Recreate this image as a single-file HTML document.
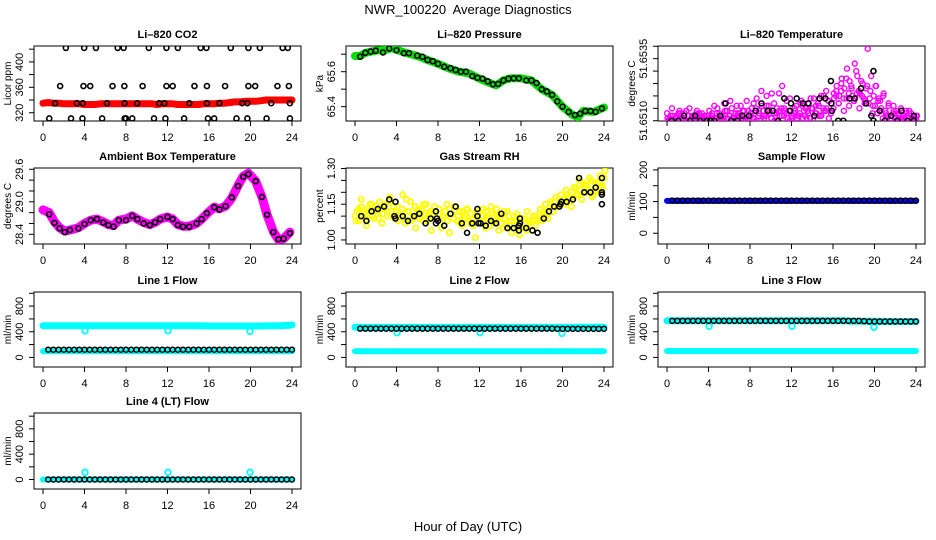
<!DOCTYPE html>
<html><head><meta charset="utf-8"><title>NWR_100220 Average Diagnostics</title>
<style>
html,body{margin:0;padding:0;background:#fff;}
svg{display:block;font-family:"Liberation Sans",sans-serif;}
.tk{font-size:11px;fill:#000;}
.pt{font-size:11px;font-weight:bold;fill:#000;}
</style></head>
<body>
<svg id="chart" width="936" height="540" viewBox="0 0 936 540" xmlns="http://www.w3.org/2000/svg">
<rect x="0" y="0" width="936" height="540" fill="#fff"/>
<text x="468" y="14" text-anchor="middle" font-size="13">NWR_100220&#160; Average Diagnostics</text>
<text x="468" y="531" text-anchor="middle" font-size="13">Hour of Day (UTC)</text>
</svg>
<script>
// ---------- data ----------
const xTicks = [0,4,8,12,16,20,24];
// CO2
const co2BlackHours = [2.2,3.97,5.1,7.2,7.77,10.2,11.9,13.0,15.2,15.75,18.1,19.8,20.9,23.1,23.6, 1.65,3.9,4.55,6.7,7.84,9.6,11.9,12.5,14.6,15.8,17.55,19.8,20.45,22.6,23.7, 1.16,3.26,3.84,6.16,7.87,9.07,11.2,11.7,14.1,15.8,17.0,19.2,19.7,22.0,23.8, 0.6,2.7,3.8,5.7,7.87,8.0,8.6,10.7,11.8,13.6,15.9,16.5,18.65,19.7,21.55,23.8];
const co2BlackVals = [422,422,422,422,422,422,422,422,422,422,422,422,422,422,422, 362,362,362,362,362,362,362,362,362,362,362,362,362,362,362, 335,335,335,335,335,335,335,335,335,335,335,335,335,335,335, 311,311,311,311,311,311,311,311,311,311,311,311,311,311,311,311];
const co2RedVals = [335,336,335,335,334,334,334,334,333,333,333,334,334,334,334,334,334, 334,334,334,334,334,333,334,334,334,333,333,333,333,333,334,334, 334,335,335,336,337,337,338,338,338,339,340,340,340,340,340,340];
// Pressure
const presHours = [0.5,1,1.5,2,2.7,3.3,4,4.7,5.2,6,6.5,7,7.5,8,8.6,9.2,9.7,10.2,10.7,11.3,11.8,12.3,12.8,13.3,13.8,14.3,14.8,15.3,15.8,16.5,17,17.5,18,18.5,19,19.5,20,20.6,21.2,21.7,22.2,22.7,23.2,23.8];
const presVals = [65.686,65.708,65.715,65.72,65.71,65.733,65.723,65.706,65.706,65.692,65.685,65.667,65.66,65.645,65.628,65.62,65.61,65.6,65.6,65.575,65.565,65.56,65.545,65.528,65.53,65.55,65.56,65.562,65.562,65.55,65.55,65.535,65.5,65.487,65.467,65.43,65.4,65.37,65.352,65.36,65.375,65.375,65.37,65.39];
const presGreenHours = [0,0.5,1,2,3,3.5,4,5,6,7,8,9,10,11,12,13,13.6,14.3,15,16,17,18,19,20,21,21.5,22,23,24];
const presGreenVals = [65.69,65.69,65.708,65.72,65.725,65.735,65.725,65.706,65.69,65.667,65.645,65.62,65.6,65.59,65.56,65.535,65.522,65.55,65.562,65.562,65.55,65.5,65.467,65.4,65.352,65.34,65.375,65.37,65.395];
// Li-820 temperature
const tempMagA = [51.6513,51.6511,51.6515,51.6510,51.6512,51.6514,51.6511,51.6513,51.6510,51.6515,51.6512,51.6511,51.6514,51.6510,51.6513,51.6512,51.6511, 51.6514,51.6512,51.6516,51.6511,51.6513,51.6510,51.6517,51.6514,51.6512,51.6515,51.6511,51.6516,51.6513,51.6510,51.6514,51.6518,51.6512, 51.6515,51.6511,51.6519,51.6513,51.6516,51.6512,51.6520,51.6514,51.6511,51.6517,51.6513,51.6521,51.6515,51.6512,51.6518,51.6514,51.6511, 51.6513,51.6516,51.6512,51.6518,51.6514,51.6511,51.6517,51.6515,51.6519,51.6513,51.6516,51.6512,51.6520,51.6515,51.6518,51.6514,51.6521, 51.6522,51.6517,51.6525,51.6519,51.6527,51.6521,51.6524,51.6518,51.6530,51.6522,51.6526,51.6519,51.6523,51.6517,51.6528,51.6520,51.6524, 51.6519,51.6515,51.6521,51.6513,51.6517,51.6512,51.6516,51.6514,51.6511,51.6515,51.6512,51.6514,51.6511,51.6513,51.6510,51.6512];
const tempMagB = [51.6510,51.6512,51.6510,51.6511,51.6513,51.6510,51.6512,51.6514,51.6510,51.6511,51.6512,51.6510,51.6513,51.6511,51.6510,51.6512, 51.6510,51.6513,51.6511,51.6515,51.6510,51.6512,51.6514,51.6511,51.6518,51.6510,51.6513,51.6512,51.6516,51.6511,51.6510,51.6514, 51.6512,51.6517,51.6510,51.6514,51.6522,51.6511,51.6516,51.6513,51.6521,51.6510,51.6515,51.6512,51.6524,51.6514,51.6511,51.6519, 51.6510,51.6514,51.6512,51.6517,51.6511,51.6515,51.6513,51.6519,51.6510,51.6516,51.6512,51.6520,51.6514,51.6522,51.6511,51.6517, 51.6519,51.6524,51.6520,51.6527,51.6523,51.6531,51.6526,51.6520,51.6533,51.6528,51.6521,51.6525,51.6518,51.6539,51.6522,51.6516, 51.6524,51.6518,51.6514,51.6520,51.6512,51.6516,51.6511,51.6514,51.6510,51.6513,51.6511,51.6512,51.6510,51.6514,51.6511,51.6510,51.6512];
const tempMagC = [51.6511,51.6510,51.6512,51.6511,51.6510,51.6513,51.6511,51.6510,51.6512,51.6510,51.6511,51.6513,51.6510,51.6512,51.6511,51.6510, 51.6512,51.6511,51.6510,51.6513,51.6512,51.6511,51.6510,51.6514,51.6512,51.6511,51.6510,51.6513,51.6512,51.6514,51.6511,51.6510, 51.6513,51.6511,51.6515,51.6512,51.6510,51.6514,51.6512,51.6516,51.6511,51.6513,51.6510,51.6514,51.6512,51.6515,51.6513,51.6510, 51.6512,51.6515,51.6511,51.6513,51.6516,51.6512,51.6514,51.6511,51.6515,51.6513,51.6517,51.6512,51.6515,51.6514,51.6518,51.6513, 51.6515,51.6520,51.6517,51.6522,51.6514,51.6519,51.6516,51.6523,51.6518,51.6521,51.6515,51.6520,51.6517,51.6524,51.6519,51.6513, 51.6516,51.6513,51.6518,51.6511,51.6514,51.6512,51.6510,51.6513,51.6511,51.6512,51.6510,51.6511,51.6513,51.6510,51.6512,51.6511,51.6510];
const tempBlackHours = [0.45,1.1,1.65,2.24,2.72,3.2,3.85,4.18,4.57,5.15,5.64,6.19,6.77,7.26,7.9,8.55,9.1,9.69,10.2,10.7,11.3,11.86,11.95,12.5,13.1,13.6,14.2,14.7,15.26,15.8,15.84,15.9,16.5,17.0,17.6,18.1,18.7,19.2,19.7,19.9,19.9,20.5,21.0,21.6,22.2,22.6,23.2,23.8,23.8];
const tempBlackVals = [51.6510,51.6510,51.6512,51.6510,51.6512,51.6510,51.6510,51.6510,51.6510,51.6512,51.6517,51.6510,51.6510,51.6512,51.6512,51.6514,51.6517,51.6514,51.6514,51.6510,51.6519,51.6514,51.6517,51.6519,51.6517,51.6517,51.6512,51.6519,51.6519,51.6526,51.6517,51.6514,51.6510,51.6510,51.6519,51.6519,51.6523,51.6517,51.6512,51.6530,51.6510,51.6514,51.6510,51.6512,51.6510,51.6514,51.6510,51.6512,51.6510];
// Ambient box temperature
const ambHours = [0.6,1.1,1.6,2.1,2.6,3.4,4,4.6,5.2,5.8,6.3,6.8,7.3,8,8.6,9.1,9.7,10.3,10.8,11.3,12,12.5,13,13.5,14.1,14.8,15.3,15.8,16.5,17,17.6,18.2,18.8,19.3,19.8,20.5,21.1,21.6,22.2,22.7,23.2,23.8];
const ambVals = [28.77,28.61,28.51,28.44,28.48,28.51,28.59,28.66,28.68,28.62,28.57,28.54,28.66,28.66,28.74,28.68,28.6,28.57,28.62,28.68,28.72,28.68,28.57,28.54,28.54,28.6,28.68,28.79,28.9,28.86,28.92,29.08,29.29,29.46,29.51,29.38,29.09,28.76,28.44,28.31,28.32,28.42];
const ambMagHours = [0,0.6,1.1,1.6,2.1,2.6,3.4,4,4.6,5.2,5.8,6.3,6.8,7.3,8,8.6,9.1,9.7,10.3,10.8,11.3,12,12.5,13,13.5,14.1,14.8,15.3,15.8,16.5,17,17.6,18.2,18.8,19.3,19.8,20.5,21.1,21.6,22.2,22.7,23.2,23.8];
const ambMagVals = [28.85,28.8,28.63,28.52,28.46,28.48,28.52,28.6,28.66,28.68,28.63,28.58,28.56,28.66,28.68,28.74,28.68,28.62,28.58,28.62,28.68,28.72,28.68,28.58,28.55,28.55,28.6,28.68,28.78,28.9,28.87,28.92,29.07,29.3,29.47,29.53,29.38,29.09,28.76,28.45,28.3,28.32,28.44];
// Gas stream RH
const rhYellowA = [1.10,1.12,1.08,1.14,1.11,1.09,1.13,1.15,1.10,1.12,1.14,1.09,1.13,1.11,1.15,1.12,1.16,1.10,1.14,1.12,1.08, 1.11,1.13,1.09,1.17,1.12,1.08,1.10,1.14,1.12,1.09,1.13,1.15,1.11,1.08,1.12,1.10,1.14,1.09,1.11, 1.07,1.10,1.12,1.08,1.13,1.11,1.09,1.14,1.10,1.07,1.12,1.09,1.13,1.08,1.11,1.06,1.10,1.12,1.08, 1.10,1.07,1.12,1.09,1.06,1.11,1.08,1.13,1.10,1.07,1.05,1.09,1.12,1.06,1.08,1.10,1.04,1.07,1.05, 1.06,1.09,1.04,1.08,1.07,1.10,1.06,1.09,1.11,1.08,1.12,1.10,1.13,1.15,1.12,1.16,1.14,1.17,1.15, 1.17,1.15,1.19,1.16,1.20,1.18,1.22,1.19,1.21,1.24,1.20,1.23,1.21,1.25,1.19,1.22,1.24,1.20,1.23,1.26];
const rhYellowB = [1.08,1.13,1.17,1.10,1.06,1.12,1.15,1.09,1.11,1.16,1.07,1.13,1.10,1.18,1.12,1.09, 1.14,1.10,1.19,1.07,1.12,1.16,1.09,1.05,1.13,1.10,1.08,1.15,1.11,1.04,1.12,1.09, 1.13,1.05,1.10,1.15,1.03,1.11,1.14,1.08,1.12,1.06,1.10,1.13,1.07,1.09,1.01,1.11, 1.08,1.13,1.05,1.10,1.14,1.07,1.11,1.04,1.09,1.12,1.06,1.10,1.03,1.08,1.11,1.02, 1.09,1.05,1.12,1.07,1.04,1.10,1.08,1.13,1.11,1.15,1.09,1.16,1.12,1.18,1.14,1.19, 1.16,1.21,1.18,1.14,1.22,1.19,1.25,1.17,1.23,1.20,1.26,1.18,1.24,1.21,1.27,1.22,1.29];
const rhBlackHours = [0.6,1.1,1.6,2.2,2.8,3.3,3.9,3.8,3.9,4.6,5.1,5.7,6.2,6.8,7.3,7.8,7.9,8.0,7.8,8.6,9.2,9.7,10.3,10.8,11.3,11.8,11.8,11.9,12.1,12.6,13.1,13.6,14.1,14.7,15.3,15.8,15.8,15.9,15.9,16.5,17.1,17.6,18.2,18.7,19.2,19.7,19.8,19.9,20.4,21.0,21.6,22.1,22.7,23.2,23.8,23.8,23.8,23.8];
const rhBlackVals = [1.10,1.08,1.12,1.13,1.14,1.17,1.16,1.10,1.09,1.10,1.08,1.10,1.11,1.07,1.09,1.12,1.09,1.08,1.07,1.06,1.11,1.14,1.07,1.03,1.07,1.13,1.10,1.07,1.07,1.06,1.08,1.07,1.11,1.05,1.05,1.04,1.06,1.09,1.07,1.05,1.04,1.03,1.09,1.12,1.14,1.14,1.15,1.16,1.16,1.17,1.26,1.20,1.20,1.22,1.26,1.19,1.20,1.15];
// Sample flow
const sampleBlueVals = [102,102,102,102,102,102,102,102,102,102,102,102,102,102,102,102,102,102,102,102,102,102,102,102,102];
const sampleBlackVals = [103,103,103,103,103,103,103,103,103,103,103,103,103,103,103,103,103,103,103,103,103,103,103,103,103,103,103,103,103,103,103,103,103,103,103,103,103,103,103,103,103,103,103,103,103,103,103,103];
// Line flows
const line1CyanHigh = [495,495,495,495,495,495,495,495,495,495,495,495,495,495,495,495,490,490,490,490,490,490,492,495,505];
const line1CyanLow = [95,95,95,95,95,95,95,95,95,95,95,95,95,95,95,95,95,95,95,95,95,95,95,95,95];
const line1Black = [120,120,120,120,120,120,120,120,120,120,120,120,120,120,120,120,120,120,120,120,120,120,120,120,120,120,120,120,120,120,120,120,120,120,120,120,120,120,120,120,120,120,120,120,120,120,120,120];
const line1DipVals = [415,415,405];
const line2CyanHigh = [470,468,468,468,468,468,468,468,468,468,468,468,468,468,468,468,468,468,468,468,468,468,470,470,470];
const line2CyanLow = [96,96,96,96,96,96,96,96,96,96,96,96,96,96,96,96,96,96,96,96,96,96,96,96,96];
const line2Black = [448,448,448,448,448,448,448,448,448,448,448,448,448,448,448,448,448,448,448,448,448,448,448,448,448,448,448,448,448,448,448,448,448,448,448,448,448,448,445,445,445,445,445,445,445,445,445,445];
const line2DipVals = [385,385,375];
const line3CyanHigh = [570,570,570,570,570,570,570,570,570,570,570,570,570,570,570,570,570,570,565,565,565,560,560,560,560];
const line3CyanLow = [100,100,100,100,100,100,100,100,100,100,100,100,100,100,100,100,100,100,100,100,100,100,100,100,100];
const line3Black = [570,570,570,570,570,570,570,570,570,570,570,570,570,570,570,570,570,570,570,570,570,570,570,570,570,570,570,570,570,570,570,570,570,570,570,570,570,565,560,560,560,560,560,560,560,560,560,560];
const line3DipVals = [485,485,470];
const line4Cyan = [0,0,0,0,0,0,0,0,0,0,0,0,0,0,0,0,0,0,0,0,0,0,0,0,0];
const line4Black = [0,0,0,0,0,0,0,0,0,0,0,0,0,0,0,0,0,0,0,0,0,0,0,0,0,0,0,0,0,0,0,0,0,0,0,0,0,0,0,0,0,0,0,0,0,0,0,0];
const line4SpikeVals = [115,115,115];
const dipHours = [4.05,12.05,19.95];

// ---------- drawing ----------
const NS = 'http://www.w3.org/2000/svg';
const svg = document.getElementById('chart');
function el(tag, attrs, parent){
  const e = document.createElementNS(NS, tag);
  for (const k in attrs) e.setAttribute(k, attrs[k]);
  (parent||svg).appendChild(e);
  return e;
}
function gridHours(n, step, start){ const a=[]; for(let i=0;i<n;i++) a.push(start+i*step); return a; }
const hourlyH = gridHours(25, 1, 0);
const halfH = gridHours(48, 0.5, 0.5);

function makePanel(name, col, row, title, ylab, ymin, ymax, ticks, labels){
  const left=[34,346,658][col], top=[46,168,292,413][row], W=267, H=[75,76,75,76][row];
  const g = el('g', {});
  
  
  const sx = h => left + (h + 0.87) / 25.74 * W;
  const sy = v => top + H * (ymax - v) / (ymax - ymin);
  const box = el('rect', {x:left, y:top, width:W, height:H, fill:'none', stroke:'#000', 'stroke-width':1}, g);
  
  
  const t = el('text', {x:left+W/2, y:top-8, 'text-anchor':'middle', class:'pt'}, g);
  t.textContent = title;
  
  
  const xa = el('g', {}, g);
  
  
  el('line', {x1:sx(0), x2:sx(24), y1:top+H, y2:top+H, stroke:'#000'}, xa);
  xTicks.forEach(v => {
    el('line', {x1:sx(v), x2:sx(v), y1:top+H, y2:top+H+5, stroke:'#000'}, xa);
    const tl = el('text', {x:sx(v), y:top+H+20, 'text-anchor':'middle', class:'tk'}, xa);
    tl.textContent = String(v);
    
    
  });
  const ya = el('g', {}, g);
  
  
  el('line', {x1:left, x2:left, y1:sy(ticks[0]), y2:sy(ticks[ticks.length-1]), stroke:'#000'}, ya);
  ticks.forEach(v => el('line', {x1:left-5, x2:left, y1:sy(v), y2:sy(v), stroke:'#000'}, ya));
  labels.forEach(s => {
    const x = left-11, y = sy(parseFloat(s));
    const tl = el('text', {x:x, y:y, 'text-anchor':'middle', class:'tk', transform:'rotate(-90 '+x+' '+y+')'}, ya);
    tl.textContent = s;
    
    
  });
  const yl = el('text', {x:left-23, y:top+H/2, 'text-anchor':'middle', 'font-size':'10', transform:'rotate(-90 '+(left-23)+' '+(top+H/2)+')'}, g);
  yl.textContent = ylab;
  
  
  const clipId = 'clip-' + name;
  const cp = el('clipPath', {id:clipId}, g);
  el('rect', {x:left, y:top, width:W, height:H}, cp);
  const marks = el('g', {'clip-path':'url(#'+clipId+')'}, g);
  
  
  return {sx, sy, g:marks};
}
function points(p, hours, vals, color, name, r, sw){
  const grp = el('g', {}, p.g);
  
  
  vals.forEach((v,i) => {
    const c = el('circle', {cx:p.sx(hours[i]), cy:p.sy(v), r:r||2.5, fill:'none', stroke:color, 'stroke-width':sw||1.4}, grp);
    
    
  });
}
function band(p, hours, vals, color, name, w){
  const d = vals.map((v,i) => (i?'L':'M') + p.sx(hours[i]).toFixed(1) + ' ' + p.sy(v).toFixed(1)).join(' ');
  const path = el('path', {d:d, fill:'none', stroke:color, 'stroke-width':w||7, 'stroke-linecap':'round', 'stroke-linejoin':'round'}, p.g);
  
  
}

// Li-820 CO2
let p = makePanel('co2', 0, 0, 'Li\u2013820 CO2', 'Licor ppm', 307, 425, [320,340,360,380,400,420], ['320','360','400']);
band(p, gridHours(49, 0.5, 0), co2RedVals, '#ff0000', 'co2-red-series', 7);
points(p, co2BlackHours, co2BlackVals, '#000', 'co2-black-series', 2.5, 1.6);

// Pressure
p = makePanel('pressure', 1, 0, 'Li\u2013820 Pressure', 'kPa', 65.318, 65.747, [65.4,65.5,65.6,65.7], ['65.4','65.6']);
band(p, presGreenHours, presGreenVals, '#00dd00', 'pressure-green-series', 8);
points(p, presHours, presVals, '#000', 'pressure-black-series', 2.5, 1.6);

// Li-820 temperature
p = makePanel('li820-temp', 2, 0, 'Li\u2013820 Temperature', 'degrees C', 51.65099, 51.65401, [51.6510,51.6515,51.6520,51.6525,51.6530,51.6535,51.6540], ['51.6510','51.6535']);
points(p, gridHours(tempMagA.length, 0.24, 0), tempMagA, '#ff00ff', 'temp-magenta-series-a');
points(p, gridHours(tempMagB.length, 0.25, 0.1), tempMagB, '#ff00ff', 'temp-magenta-series-b');
points(p, gridHours(tempMagC.length, 0.25, 0.05), tempMagC, '#ff00ff', 'temp-magenta-series-c');
points(p, tempBlackHours, tempBlackVals, '#000', 'temp-black-series', 2.5, 1.6);

// Ambient box temperature
p = makePanel('ambient-temp', 0, 1, 'Ambient Box Temperature', 'degrees C', 28.221, 29.624, [28.4,28.6,28.8,29.0,29.2,29.4,29.6], ['28.4','29.0','29.6']);
band(p, ambMagHours, ambMagVals, '#ff00ff', 'ambient-magenta-series', 9);
points(p, ambHours, ambVals, '#000', 'ambient-black-series', 2.5, 1.6);

// Gas stream RH
p = makePanel('gas-rh', 1, 1, 'Gas Stream RH', 'percent', 0.983, 1.302, [1.00,1.05,1.10,1.15,1.20,1.25,1.30], ['1.00','1.15','1.30']);
points(p, gridHours(rhYellowA.length, 24/(rhYellowA.length-1), 0), rhYellowA, '#ffff00', 'rh-yellow-series-a', 2.6, 1.8);
points(p, gridHours(rhYellowB.length, 0.25, 0.1), rhYellowB, '#ffff00', 'rh-yellow-series-b', 2.6, 1.8);
points(p, rhBlackHours, rhBlackVals, '#000', 'rh-black-series', 2.5, 1.6);

// Sample flow
p = makePanel('sample-flow', 2, 1, 'Sample Flow', 'ml/min', -34, 206, [0,50,100,150,200], ['0','100','200']);
band(p, hourlyH, sampleBlueVals, '#0000ff', 'sample-blue-series', 6);
points(p, halfH, sampleBlackVals, '#000', 'sample-black-series', 2.5, 1.5);

// Line 1
const flowTicks = [0,200,400,600,800,1000], flowLabels = ['0','400','800'];
p = makePanel('line1-flow', 0, 2, 'Line 1 Flow', 'ml/min', -150, 1020, flowTicks, flowLabels);
band(p, hourlyH, line1CyanHigh, '#00ffff', 'line1-cyan-high-series', 7);
band(p, hourlyH, line1CyanLow, '#00ffff', 'line1-cyan-low-series', 6);
points(p, dipHours, line1DipVals, '#00ffff', 'line1-cyan-dips', 2.8, 1.8);
points(p, halfH, line1Black, '#000', 'line1-black-series', 2.5, 1.5);

// Line 2
p = makePanel('line2-flow', 1, 2, 'Line 2 Flow', 'ml/min', -150, 1020, flowTicks, flowLabels);
band(p, hourlyH, line2CyanHigh, '#00ffff', 'line2-cyan-high-series', 7);
band(p, hourlyH, line2CyanLow, '#00ffff', 'line2-cyan-low-series', 6);
points(p, dipHours, line2DipVals, '#00ffff', 'line2-cyan-dips', 2.8, 1.8);
points(p, halfH, line2Black, '#000', 'line2-black-series', 2.5, 1.5);

// Line 3
p = makePanel('line3-flow', 2, 2, 'Line 3 Flow', 'ml/min', -150, 1020, flowTicks, flowLabels);
band(p, hourlyH, line3CyanHigh, '#00ffff', 'line3-cyan-high-series', 7);
band(p, hourlyH, line3CyanLow, '#00ffff', 'line3-cyan-low-series', 6);
points(p, dipHours, line3DipVals, '#00ffff', 'line3-cyan-dips', 2.8, 1.8);
points(p, halfH, line3Black, '#000', 'line3-black-series', 2.5, 1.5);

// Line 4
p = makePanel('line4-flow', 0, 3, 'Line 4 (LT) Flow', 'ml/min', -150, 1050, flowTicks, flowLabels);
band(p, hourlyH, line4Cyan, '#00ffff', 'line4-cyan-series', 6);
points(p, dipHours, line4SpikeVals, '#00ffff', 'line4-cyan-spikes', 2.8, 1.8);
points(p, halfH, line4Black, '#000', 'line4-black-series', 2.5, 1.5);
</script>
</body></html>
